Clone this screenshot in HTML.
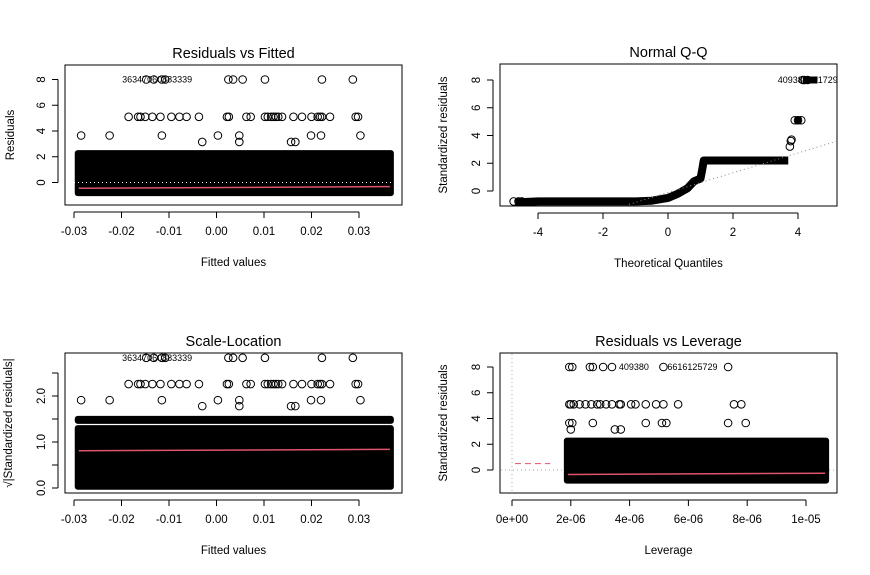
<!DOCTYPE html>
<html><head><meta charset="utf-8"><style>
body{margin:0;background:#fff}
svg{display:block;font-family:"Liberation Sans",Arial,sans-serif}
</style></head><body>
<svg id="c" width="870" height="575" viewBox="0 0 870 575"></svg>
<script>
// ---- data ----
const rvfX8=[-0.0148,-0.0132,-0.0115,-0.0108,0.0025,0.0035,0.0055,0.0102,0.0222,0.0287];
const rvfX5=[-0.0185,-0.0165,-0.016,-0.015,-0.0135,-0.0118,-0.0095,-0.0078,-0.0063,-0.0037,0.0022,0.0026,0.0063,0.0072,0.0102,0.0108,0.0115,0.012,0.0125,0.013,0.0138,0.0162,0.018,0.02,0.0213,0.0218,0.0222,0.0239,0.0293,0.0298];
const rvfX36=[-0.0285,-0.0225,-0.0115,0.0003,0.0048,0.0199,0.022,0.0303];
const rvfX31=[-0.003,0.0048,0.0157,0.0166];
const outlierLabels=["363","470","608","833","39"];
const qqX=[-4.7,-4.5,-4,-3,-2,-1,-0.5,0,0.3,0.6,0.8,1.0,1.05,1.1,2,3,3.7];
const qqY=[-0.8,-0.8,-0.75,-0.75,-0.75,-0.75,-0.7,-0.5,-0.2,0.2,0.7,0.9,1.5,2.2,2.2,2.2,2.2];
const qqHiX=[3.75,3.78,3.8,3.9,4.0,4.1,4.15,4.2,4.3];
const qqHiY=[3.2,3.6,3.7,5.1,5.1,5.1,8,8,8];
const levX8=[1.95e-6,2.05e-6,2.65e-6,2.75e-6,3.1e-6,3.4e-6,5.15e-6,7.35e-6];
const levX5=[1.95e-6,2.0e-6,2.1e-6,2.3e-6,2.5e-6,2.7e-6,2.9e-6,3.0e-6,3.2e-6,3.4e-6,3.65e-6,3.7e-6,4.05e-6,4.2e-6,4.55e-6,4.9e-6,5.15e-6,5.65e-6,7.55e-6,7.8e-6];
const levX36=[1.95e-6,2.05e-6,2.75e-6,4.55e-6,5.1e-6,5.25e-6,7.35e-6,7.95e-6];
const levX31=[2.0e-6,3.5e-6,3.7e-6];
// ---- drawing ----
const svg=document.getElementById('c');const NS='http://www.w3.org/2000/svg';
function el(t,a,p){const e=document.createElementNS(NS,t);for(const k in a)e.setAttribute(k,a[k]);(p||svg).appendChild(e);return e;}
function txt(x,y,s,size,rot,anchor,name){const e=el('text',{x:x,y:y,'font-size':size,'text-anchor':anchor||'middle',fill:'#000'});if(rot)e.setAttribute('transform','rotate(-90 '+x+' '+y+')');e.textContent=s;

return e;}
function panel(o){
 const g=el('g',{});
 
 
 const sx=v=>o.x0px+(v-o.xa)*(o.x1px-o.x0px)/(o.xb-o.xa);
 const sy=v=>o.y0px+(v-o.ya)*(o.y1px-o.y0px)/(o.yb-o.ya);
 o.sx=sx;o.sy=sy;o.g=g;
 const r=el('rect',{x:o.L,y:o.T,width:o.R-o.L,height:o.B-o.T,fill:'none',stroke:'#000','stroke-width':1},g);
 
 el('line',{x1:sx(o.xt[0]),x2:sx(o.xt[o.xt.length-1]),y1:o.B+7,y2:o.B+7,stroke:'#000'},g);
 o.xt.forEach((t,i)=>{el('line',{x1:sx(t),x2:sx(t),y1:o.B+7,y2:o.B+13,stroke:'#000'},g);txt(sx(t),o.B+30,o.xl[i],11.5,false,'middle','x-tick-label');});
 el('line',{x1:o.L-7,x2:o.L-7,y1:sy(o.yt[0]),y2:sy(o.yt[o.yt.length-1]),stroke:'#000'},g);
 o.yt.forEach((t,i)=>{el('line',{x1:o.L-7,x2:o.L-13,y1:sy(t),y2:sy(t),stroke:'#000'},g);if(o.yl[i])txt(o.L-20,sy(t),o.yl[i],11.5,true,'middle','y-tick-label');});
 txt((o.L+o.R)/2,o.T-7,o.title,14.5,false,'middle','panel-title');
 txt((o.L+o.R)/2,o.B+61,o.xlab,11.5,false,'middle','x-axis-title');
 txt(o.ylx,(o.T+o.B)/2,o.ylab,11.5,true,'middle','y-axis-title');
 return o;}
function pts(o,xs,y,name){xs.forEach(x=>{const c=el('circle',{cx:o.sx(x),cy:o.sy(y),r:3.8,fill:'none',stroke:'#000','stroke-width':1},o.g);
 });}
function band(o,x0,x1,y0,y1){const r=el('rect',{x:o.sx(x0)-4,y:o.sy(y1)-4,width:o.sx(x1)-o.sx(x0)+8,height:o.sy(y0)-o.sy(y1)+8,rx:3,fill:'#000'},o.g);
 }
// Panel 1
const p1=panel({name:'residuals-vs-fitted',L:65,R:402,T:65,B:205,xa:-0.03,xb:0.03,x0px:74,x1px:359,ya:0,yb:8,y0px:182.5,y1px:79.5,
 xt:[-0.03,-0.02,-0.01,0,0.01,0.02,0.03],xl:['-0.03','-0.02','-0.01','0.00','0.01','0.02','0.03'],yt:[0,2,4,6,8],yl:['0','2','4','6','8'],
 title:'Residuals vs Fitted',xlab:'Fitted values',ylab:'Residuals',ylx:14});
band(p1,-0.029,0.0365,-0.75,2.2);
el('line',{x1:66,x2:401,y1:p1.sy(0),y2:p1.sy(0),stroke:'#fff','stroke-dasharray':'1 3'},p1.g);
el('line',{x1:p1.sx(-0.029),x2:p1.sx(0.0365),y1:p1.sy(-0.45),y2:p1.sy(-0.32),stroke:'#df536b','stroke-width':1.5},p1.g);
pts(p1,rvfX8,8,'outlier-point');pts(p1,rvfX5,5.1,'outlier-point');pts(p1,rvfX36,3.65,'outlier-point');pts(p1,rvfX31,3.15,'outlier-point');
txt(p1.sx(-0.0125),p1.sy(8)+3,outlierLabels.join(''),9,false,'middle','point-labels');
// Panel 2
const p2=panel({name:'normal-qq',L:500,R:837,T:64,B:206,xa:-4,xb:4,x0px:538,x1px:798,ya:0,yb:8,y0px:191,y1px:80,
 xt:[-4,-2,0,2,4],xl:['-4','-2','0','2','4'],yt:[0,2,4,6,8],yl:['0','2','4','6','8'],
 title:'Normal Q-Q',xlab:'Theoretical Quantiles',ylab:'Standardized residuals',ylx:447});
const qp=el('polyline',{points:qqX.map((x,i)=>p2.sx(x)+','+p2.sy(qqY[i])).join(' '),fill:'none',stroke:'#000','stroke-width':8,'stroke-linejoin':'round'},p2.g);

qqHiX.forEach((x,i)=>pts(p2,[x],qqHiY[i],'qq-point'));
el('polyline',{points:[[3.9,5.1],[4.1,5.1]].map(a=>p2.sx(a[0])+','+p2.sy(a[1])).join(' '),stroke:'#000','stroke-width':8},p2.g);
el('polyline',{points:[[4.15,8],[4.6,8]].map(a=>p2.sx(a[0])+','+p2.sy(a[1])).join(' '),stroke:'#000','stroke-width':7},p2.g);
el('line',{x1:p2.sx(-1.2),y1:p2.sy(-0.1-0.72*1.2),x2:836,y2:p2.sy(-0.1+0.72*5.1),stroke:'#888','stroke-dasharray':'1 3'},p2.g);
pts(p2,[-4.75,-4.6,-4.5],-0.75,'qq-point');
txt(p2.sx(4.3),p2.sy(8)+3,'409380061729',9,false,'middle','point-labels');
// Panel 3
const p3=panel({name:'scale-location',L:65,R:402,T:353,B:493,xa:-0.03,xb:0.03,x0px:74,x1px:359,ya:0,yb:2,y0px:488,y1px:396,
 xt:[-0.03,-0.02,-0.01,0,0.01,0.02,0.03],xl:['-0.03','-0.02','-0.01','0.00','0.01','0.02','0.03'],yt:[0,0.5,1,1.5,2,2.5],yl:['0.0','','1.0','','2.0',''],
 title:'Scale-Location',xlab:'Fitted values',ylab:'√|Standardized residuals|',ylx:12});
band(p3,-0.029,0.0365,0.05,1.28);
band(p3,-0.029,0.0365,1.48,1.48);
el('line',{x1:p3.sx(-0.029),x2:p3.sx(0.0365),y1:p3.sy(0.81),y2:p3.sy(0.84),stroke:'#df536b','stroke-width':1.5},p3.g);
pts(p3,rvfX8,2.83,'outlier-point');pts(p3,rvfX5,2.26,'outlier-point');pts(p3,rvfX36,1.91,'outlier-point');pts(p3,rvfX31,1.78,'outlier-point');
txt(p3.sx(-0.0125),p3.sy(2.83)+3,outlierLabels.join(''),9,false,'middle','point-labels');
// Panel 4
const p4=panel({name:'residuals-vs-leverage',L:500,R:837,T:353,B:493,xa:0,xb:1e-5,x0px:512,x1px:806,ya:0,yb:8,y0px:470,y1px:367,
 xt:[0,2e-6,4e-6,6e-6,8e-6,1e-5],xl:['0e+00','2e-06','4e-06','6e-06','8e-06','1e-05'],yt:[0,2,4,6,8],yl:['0','2','4','6','8'],
 title:'Residuals vs Leverage',xlab:'Leverage',ylab:'Standardized residuals',ylx:447});
el('line',{x1:p4.sx(0),x2:p4.sx(0),y1:354,y2:492,stroke:'#aaa','stroke-dasharray':'1 3'},p4.g);
el('line',{x1:501,x2:836,y1:p4.sy(0),y2:p4.sy(0),stroke:'#aaa','stroke-dasharray':'1 3'},p4.g);
band(p4,1.9e-6,1.065e-5,-0.75,2.2);
el('line',{x1:p4.sx(0.1e-6),x2:p4.sx(1.3e-6),y1:p4.sy(0.5),y2:p4.sy(0.5),stroke:'#df536b','stroke-dasharray':'6 4'},p4.g);
el('line',{x1:p4.sx(1.9e-6),x2:p4.sx(1.065e-5),y1:p4.sy(-0.35),y2:p4.sy(-0.25),stroke:'#df536b','stroke-width':1.5},p4.g);
pts(p4,levX8,8,'outlier-point');pts(p4,levX5,5.1,'outlier-point');pts(p4,levX36,3.65,'outlier-point');pts(p4,levX31,3.15,'outlier-point');
txt(p4.sx(3.5e-6)+4,p4.sy(8)+3,'409380',9,false,'start','point-labels');
txt(p4.sx(5.15e-6)+4,p4.sy(8)+3,'6616125729',9,false,'start','point-labels');
</script>
</body></html>
